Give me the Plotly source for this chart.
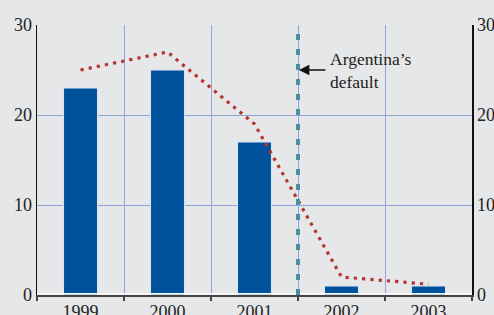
import plotly.graph_objects as go

years = ["1999", "2000", "2001", "2002", "2003"]
bar_values = [23, 25, 17, 1, 1]
line_values = [25, 27, 19, 2, 1.2]
y_ticks = [0, 10, 20, 30]
default_label = "Argentina’s<br>default"

BG = "#E6E7E9"
GRID = "#8EA4D8"
BAR = "#00529C"
DOT = "#B5352F"
TEAL = "#4B8F9F"
FONT = "Liberation Serif"

fig = go.Figure()
fig.add_trace(go.Bar(
    x=years, y=bar_values, width=0.39,
    marker=dict(color=BAR, line=dict(color="#dfe6f2", width=1)),
    showlegend=False,
))
fig.add_trace(go.Scatter(
    x=years, y=line_values, mode="lines",
    line=dict(color=DOT, width=3.2, dash="3.2px,5.1px"),
    showlegend=False,
))
# invisible trace to activate right axis
fig.add_trace(go.Scatter(x=years, y=bar_values, yaxis="y2", mode="lines",
                         line=dict(width=0), hoverinfo="skip", showlegend=False))

# white line above bottom axis
fig.add_shape(type="line", xref="x", yref="y", x0=-0.5, x1=4.5, y0=0.15, y1=0.15,
              line=dict(color="white", width=1.5), layer="above")
# default dashed line
fig.add_shape(type="line", xref="x", yref="y", x0=2.5, x1=2.5, y0=0, y1=30,
              line=dict(color=TEAL, width=4, dash="6px,9px"), layer="above")

fig.add_annotation(x=2.511, y=25, xref="x", yref="y", ax=28, ay=0,
                   axref="pixel", ayref="pixel", text="", showarrow=True,
                   arrowhead=2, arrowsize=1.3, arrowwidth=1.6, arrowcolor="#111")
fig.add_annotation(x=2.845, y=24.9, xref="x", yref="y", text=default_label,
                   showarrow=False, xanchor="left", yanchor="middle", align="left",
                   font=dict(family=FONT, size=17.5, color="#222"))

fig.update_layout(
    width=494, height=315,
    margin=dict(l=37, r=22, t=25, b=20, autoexpand=False),
    paper_bgcolor=BG, plot_bgcolor=BG,
    bargap=0,
    xaxis=dict(type="category", range=[-0.5, 4.5], tickson="boundaries",
               automargin=False,
               showgrid=True, gridcolor=GRID, gridwidth=1,
               ticks="outside", ticklen=4, tickcolor="#444", tickwidth=1.5,
               showline=True, linecolor="#444", linewidth=1.5,
               tickfont=dict(family=FONT, size=18, color="#222")),
    yaxis=dict(range=[0, 30], tickvals=y_ticks, showgrid=True, gridcolor=GRID,
               automargin=False,
               gridwidth=1, zeroline=False, showline=True, linecolor="#111",
               linewidth=1.5, ticks="",
               tickfont=dict(family=FONT, size=18, color="#222")),
    yaxis2=dict(range=[0, 30], tickvals=y_ticks, overlaying="y", side="right",
                automargin=False,
                showgrid=False, zeroline=False, showline=True, linecolor="#111",
                linewidth=1.5, ticks="",
                tickfont=dict(family=FONT, size=18, color="#222")),
)

fig.write_html("out.html",
               config={"displayModeBar": False, "staticPlot": True},
               post_script="document.body.style.margin='0';document.body.style.overflow='hidden';")
